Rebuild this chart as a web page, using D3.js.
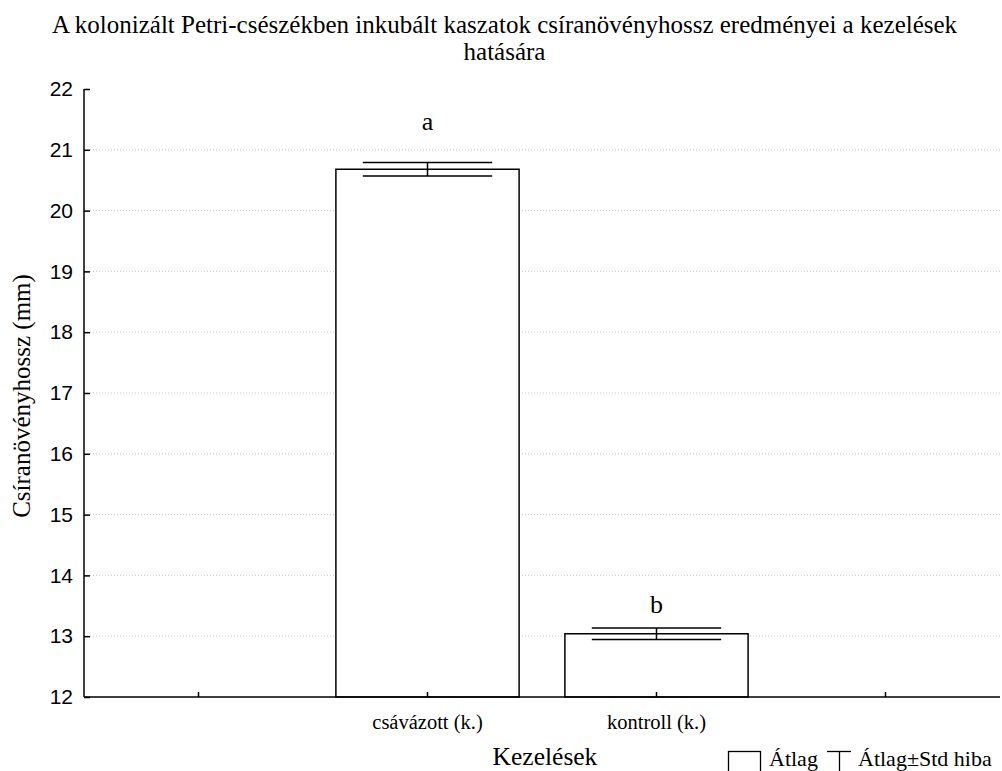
<!DOCTYPE html>
<html><head><meta charset="utf-8">
<script src="https://cdn.jsdelivr.net/npm/d3@7"></script>
<style>body{margin:0;background:#fff}svg{display:block}</style>
</head><body>
<svg id="c" width="1002" height="771"></svg>
<script>
const categories = ["", "csávázott (k.)", "kontroll (k.)", " "];
const barCategories = ["csávázott (k.)", "kontroll (k.)"];
const means = [20.68, 13.04];
const stdErr = [0.11, 0.095];
const groupLetters = ["a", "b"];
const yTicks = [12, 13, 14, 15, 16, 17, 18, 19, 20, 21, 22];
const gridValues = [13, 14, 15, 16, 17, 18, 19, 20, 21];

(function () {
const svg = d3.select("#c");
const mLeft = 84, mRight = 1000, mTop = 89, mBottom = 697;
const x = d3.scaleBand().domain(categories).range([mLeft, mRight]).paddingInner(0).paddingOuter(0);
const y = d3.scaleLinear().domain([12, 22]).range([mBottom, mTop]);
const serif = "Liberation Serif, Times New Roman, serif";
const sans = "Liberation Sans, Arial, sans-serif";
const letterGap = [33, 15];

// title
svg.append("text").attr("x", 504.5).attr("y", 33).attr("text-anchor", "middle")
  .attr("font-family", serif).attr("font-size", 25)
  .text("A kolonizált Petri-csészékben inkubált kaszatok csíranövényhossz eredményei a kezelések");
svg.append("text").attr("x", 504.5).attr("y", 60).attr("text-anchor", "middle")
  .attr("font-family", serif).attr("font-size", 25).text("hatására");

// grid
svg.append("g").selectAll("line").data(gridValues).join("line")
  .attr("x1", mLeft).attr("x2", mRight).attr("y1", d => y(d)).attr("y2", d => y(d))
  .attr("stroke", "#c8c8c8").attr("stroke-width", 1).attr("stroke-dasharray", "1,2");

// bars
const bw = x.bandwidth() * 0.8;
const bars = svg.append("g");
barCategories.forEach((c, i) => {
  const cx = x(c) + x.bandwidth() / 2;
  bars.append("rect").attr("x", cx - bw / 2).attr("y", y(means[i]))
    .attr("width", bw).attr("height", y(12) - y(means[i]))
    .attr("fill", "#fff").attr("stroke", "#000").attr("stroke-width", 1.5);
  const cw = x.bandwidth() * 0.565;
  const hi = y(means[i] + stdErr[i]), lo = y(means[i] - stdErr[i]);
  bars.append("line").attr("x1", cx - cw / 2).attr("x2", cx + cw / 2).attr("y1", hi).attr("y2", hi)
    .attr("stroke", "#000").attr("stroke-width", 1.5);
  bars.append("line").attr("x1", cx - cw / 2).attr("x2", cx + cw / 2).attr("y1", lo).attr("y2", lo)
    .attr("stroke", "#000").attr("stroke-width", 1.5);
  bars.append("line").attr("x1", cx).attr("x2", cx).attr("y1", hi).attr("y2", lo)
    .attr("stroke", "#000").attr("stroke-width", 1.5);
  bars.append("text").attr("x", cx).attr("y", hi - letterGap[i]).attr("text-anchor", "middle")
    .attr("font-family", serif).attr("font-size", 26).text(groupLetters[i]);
});

// y axis
const yAxis = svg.append("g").attr("transform", `translate(${mLeft},0)`)
  .call(d3.axisLeft(y).tickValues(yTicks).tickSize(-6).tickPadding(11).tickFormat(d3.format("d")));
yAxis.select(".domain").attr("stroke-width", 1.5).attr("d", `M0,${mTop}V${mBottom}`);
yAxis.selectAll(".tick line").attr("stroke-width", 1.5);
yAxis.selectAll("text").attr("font-family", sans).attr("font-size", 21).attr("fill", "#000");

// x axis
const xAxis = svg.append("g").attr("transform", `translate(0,${mBottom})`)
  .call(d3.axisBottom(x).tickSize(-5).tickPadding(0));
xAxis.select(".domain").attr("stroke-width", 1.5).attr("d", `M${mLeft},0H${mRight}`);
xAxis.selectAll(".tick line").attr("stroke-width", 1.5);
xAxis.selectAll("text").attr("font-family", serif).attr("font-size", 20.5).attr("fill", "#000")
  .attr("dy", null).attr("y", 32);

// axis titles
svg.append("text").attr("transform", `translate(30,396) rotate(-90)`)
  .attr("text-anchor", "middle").attr("font-family", serif).attr("font-size", 25)
  .text("Csíranövényhossz (mm)");
svg.append("text").attr("x", (mLeft + mRight) / 2 + 3).attr("y", 765).attr("text-anchor", "middle")
  .attr("font-family", serif).attr("font-size", 25.5).text("Kezelések");

// legend
const lg = svg.append("g");
lg.append("rect").attr("x", 728.5).attr("y", 751.5).attr("width", 32).attr("height", 22)
  .attr("fill", "#fff").attr("stroke", "#000").attr("stroke-width", 1.3);
lg.append("text").attr("x", 769).attr("y", 766).attr("font-family", serif).attr("font-size", 22).text("Átlag");
lg.append("line").attr("x1", 827).attr("x2", 851).attr("y1", 751.5).attr("y2", 751.5).attr("stroke", "#000").attr("stroke-width", 1.3);
lg.append("line").attr("x1", 839.5).attr("x2", 839.5).attr("y1", 751.5).attr("y2", 771).attr("stroke", "#000").attr("stroke-width", 1.3);
lg.append("text").attr("x", 858).attr("y", 766).attr("font-family", serif).attr("font-size", 22).text("Átlag±Std hiba");
})();
</script>
</body></html>
